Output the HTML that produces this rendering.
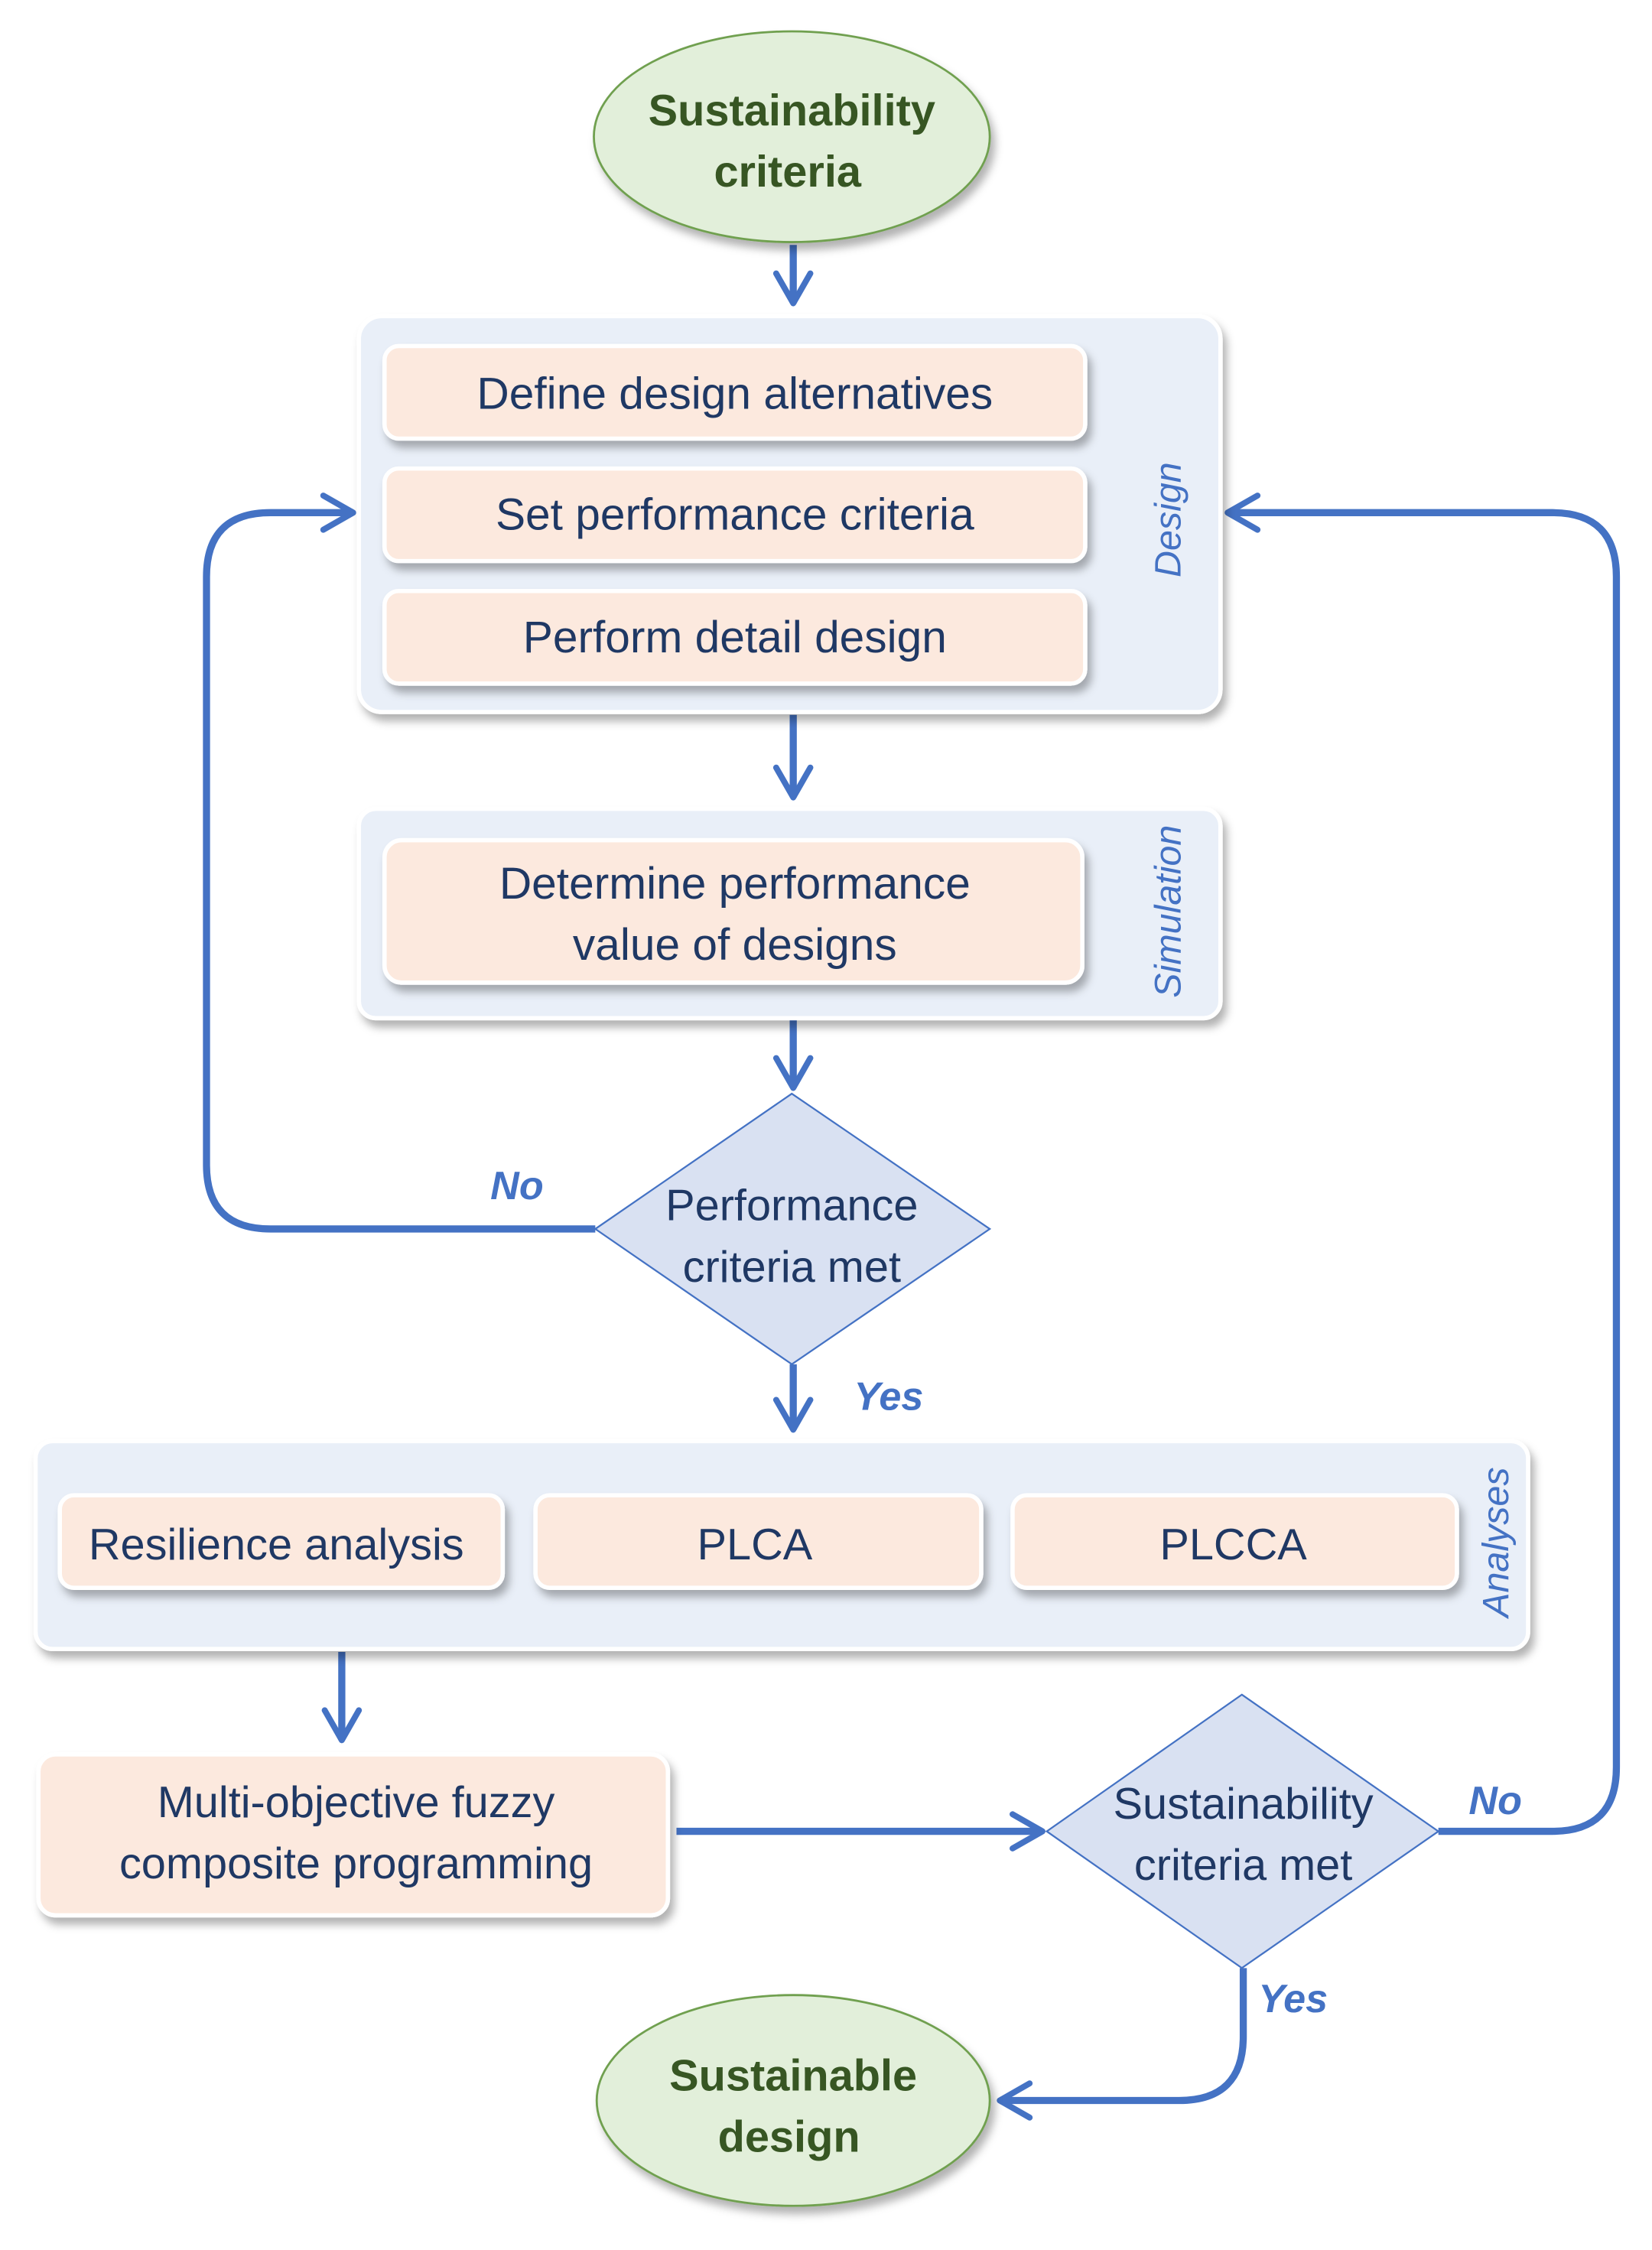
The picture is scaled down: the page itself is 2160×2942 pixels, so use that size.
<!DOCTYPE html>
<html><head><meta charset="utf-8"><style>html,body{margin:0;padding:0;background:#fff}svg{display:block}</style></head>
<body>
<svg width="2160" height="2942" viewBox="0 0 1160 1580" preserveAspectRatio="none" xmlns="http://www.w3.org/2000/svg">
<defs>
<filter id="sh" x="-10%" y="-10%" width="130%" height="140%"><feDropShadow dx="3" dy="5" stdDeviation="3" flood-color="#000" flood-opacity="0.3"/></filter>
<marker id="arb" viewBox="0 0 20 20" refX="17" refY="10" markerWidth="30" markerHeight="30" orient="auto" markerUnits="userSpaceOnUse"><path d="M3,2 L17,10 L3,18" fill="none" stroke="#4472C4" stroke-width="2.8" stroke-linecap="round" stroke-linejoin="round"/></marker>
</defs>
<g font-family="'Liberation Sans', sans-serif">
<g stroke="#4472C4" stroke-width="5" fill="none" marker-end="url(#arb)">
<path d="M557,172 V213"/>
<path d="M557,502 V560"/>
<path d="M557,716 V764"/>
<path d="M557,958 V1004"/>
<path d="M240,1160 V1222"/>
<path d="M475,1286 H732"/>
<path d="M418,863 H190 Q145,863 145,818 V405 Q145,360 190,360 H248"/>
<path d="M1010,1286 H1090 Q1135,1286 1135,1241 V405 Q1135,360 1090,360 H862"/>
<path d="M873,1382 V1430 Q873,1475 828,1475 H702"/>
</g>
<ellipse cx="556" cy="96" rx="139" ry="74" fill="#E2EFDA" stroke="#70A050" stroke-width="1.5" filter="url(#sh)"/>
<text x="556" y="88" text-anchor="middle" font-size="31" font-weight="bold" fill="#375623">Sustainability</text>
<text x="553" y="131" text-anchor="middle" font-size="31" font-weight="bold" fill="#375623">criteria</text>
<rect x="252" y="222" width="605" height="278" rx="16" fill="#E9EFF8" stroke="#fff" stroke-width="3" filter="url(#sh)"/>
<g fill="#FCE9DE" stroke="#fff" stroke-width="3" filter="url(#sh)">
<rect x="270" y="243" width="492" height="65" rx="10"/>
<rect x="270" y="329" width="492" height="65" rx="10"/>
<rect x="270" y="415" width="492" height="65" rx="10"/>
</g>
<g font-size="31.5" fill="#1F3864" text-anchor="middle">
<text x="516" y="287">Define design alternatives</text>
<text x="516" y="372">Set performance criteria</text>
<text x="516" y="458">Perform detail design</text>
</g>
<text transform="translate(829,365) rotate(-90)" text-anchor="middle" font-size="26" font-style="italic" fill="#4472C4">Design</text>
<rect x="252" y="568" width="605" height="147" rx="12" fill="#E9EFF8" stroke="#fff" stroke-width="3" filter="url(#sh)"/>
<rect x="270" y="590" width="490" height="100" rx="12" fill="#FCE9DE" stroke="#fff" stroke-width="3" filter="url(#sh)"/>
<g font-size="31.5" fill="#1F3864" text-anchor="middle">
<text x="516" y="631">Determine performance</text>
<text x="516" y="674">value of designs</text>
</g>
<text transform="translate(829,640) rotate(-90)" text-anchor="middle" font-size="26" font-style="italic" fill="#4472C4">Simulation</text>
<path d="M556,768 L695,863 L556,958 L418,863 Z" fill="#D9E1F2" stroke="#4472C4" stroke-width="1.2"/>
<g font-size="31" fill="#1F3864" text-anchor="middle">
<text x="556" y="857">Performance</text>
<text x="556" y="900">criteria met</text>
</g>
<text x="363" y="842" text-anchor="middle" font-size="28" font-weight="bold" font-style="italic" fill="#4472C4">No</text>
<text x="624" y="990" text-anchor="middle" font-size="28" font-weight="bold" font-style="italic" fill="#4472C4">Yes</text>
<rect x="25" y="1012" width="1048" height="146" rx="12" fill="#E9EFF8" stroke="#fff" stroke-width="3" filter="url(#sh)"/>
<g fill="#FCE9DE" stroke="#fff" stroke-width="3" filter="url(#sh)">
<rect x="42" y="1050" width="311" height="65" rx="10"/>
<rect x="376" y="1050" width="313" height="65" rx="10"/>
<rect x="711" y="1050" width="312" height="65" rx="10"/>
</g>
<g font-size="31" fill="#1F3864" text-anchor="middle">
<text x="194" y="1095">Resilience analysis</text>
<text x="530" y="1095">PLCA</text>
<text x="866" y="1095">PLCCA</text>
</g>
<text transform="translate(1059,1083) rotate(-90)" text-anchor="middle" font-size="26" font-style="italic" fill="#4472C4">Analyses</text>
<rect x="27" y="1232" width="442" height="113" rx="12" fill="#FCE9DE" stroke="#fff" stroke-width="3" filter="url(#sh)"/>
<g font-size="31" fill="#1F3864" text-anchor="middle">
<text x="250" y="1276">Multi-objective fuzzy</text>
<text x="250" y="1319">composite programming</text>
</g>
<path d="M872,1190 L1010,1286 L872,1382 L735,1286 Z" fill="#D9E1F2" stroke="#4472C4" stroke-width="1.2"/>
<g font-size="31" fill="#1F3864" text-anchor="middle">
<text x="873" y="1277">Sustainability</text>
<text x="873" y="1320">criteria met</text>
</g>
<text x="1050" y="1274" text-anchor="middle" font-size="28" font-weight="bold" font-style="italic" fill="#4472C4">No</text>
<text x="908" y="1413" text-anchor="middle" font-size="28" font-weight="bold" font-style="italic" fill="#4472C4">Yes</text>
<ellipse cx="557" cy="1475" rx="138" ry="74" fill="#E2EFDA" stroke="#70A050" stroke-width="1.5" filter="url(#sh)"/>
<text x="557" y="1468" text-anchor="middle" font-size="31" font-weight="bold" fill="#375623">Sustainable</text>
<text x="554" y="1511" text-anchor="middle" font-size="31" font-weight="bold" fill="#375623">design</text>
</g>
</svg>
</body></html>
